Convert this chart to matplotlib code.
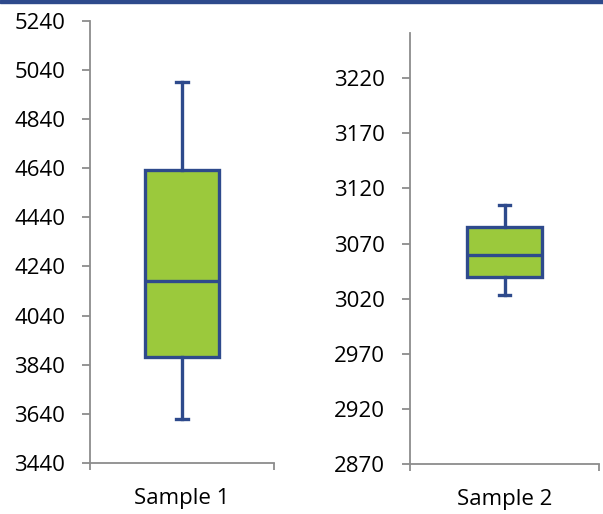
import matplotlib
matplotlib.use("Agg")
import matplotlib.pyplot as plt
from matplotlib.patches import Rectangle

plt.rcParams['font.family'] = ['Open Sans', 'DejaVu Sans']

# box stats
labels = ["Sample 1", "Sample 2"]
whislo = [3620, 3023]
q1 = [3870, 3040]
med = [4180, 3060]
q3 = [4630, 3085]
whishi = [4990, 3105]

ticks1 = list(range(3440, 5241, 200))
ticks2 = list(range(2870, 3221, 50))
ylims = [(3440, 5240), (2870, 3261)]

blue = "#2E4A8C"
green = "#9BC93C"
grey = "#8C8C8C"

fig = plt.figure(figsize=(6.03, 5.14), dpi=100)
fig.patches.append(Rectangle((0, 1 - 3 / 514), 1, 3 / 514, transform=fig.transFigure,
                             color=blue, zorder=5))

ax1 = fig.add_axes([0.1493, 0.0992, 0.3051, 0.8609])
ax2 = fig.add_axes([0.6800, 0.0973, 0.3134, 0.8385])

for i, (ax, ticks) in enumerate([(ax1, ticks1), (ax2, ticks2)]):
    stats = [dict(whislo=whislo[i], q1=q1[i], med=med[i], q3=q3[i], whishi=whishi[i],
                  fliers=[], label=labels[i])]
    ax.bxp(stats, positions=[1], widths=0.4, capwidths=0.06, patch_artist=True,
           showfliers=False,
           boxprops=dict(facecolor=green, edgecolor=blue, linewidth=2.4),
           medianprops=dict(color=blue, linewidth=2.4),
           whiskerprops=dict(color=blue, linewidth=2.4),
           capprops=dict(color=blue, linewidth=2.4))
    ax.set_xlim(0.5, 1.5)
    ax.set_ylim(*ylims[i])
    ax.set_yticks(ticks)
    ax.set_xticks([1])
    ax.set_xticklabels([labels[i]])
    ax.set_xticks([0.5, 1.5], minor=True)
    for s in ["top", "right"]:
        ax.spines[s].set_visible(False)
    for s in ["left", "bottom"]:
        ax.spines[s].set_color(grey)
        ax.spines[s].set_linewidth(1.3)
    ax.tick_params(axis="y", direction="out", length=6, width=1.3, color=grey,
                   labelsize=16, pad=12)
    ax.tick_params(axis="x", which="major", length=0, labelsize=16, pad=18)
    ax.tick_params(axis="x", which="minor", direction="out", length=5, width=1.3, color=grey)
    for lab in ax.get_yticklabels() + ax.get_xticklabels():
        lab.set_color("black")

fig.savefig("out.png", dpi=100)
